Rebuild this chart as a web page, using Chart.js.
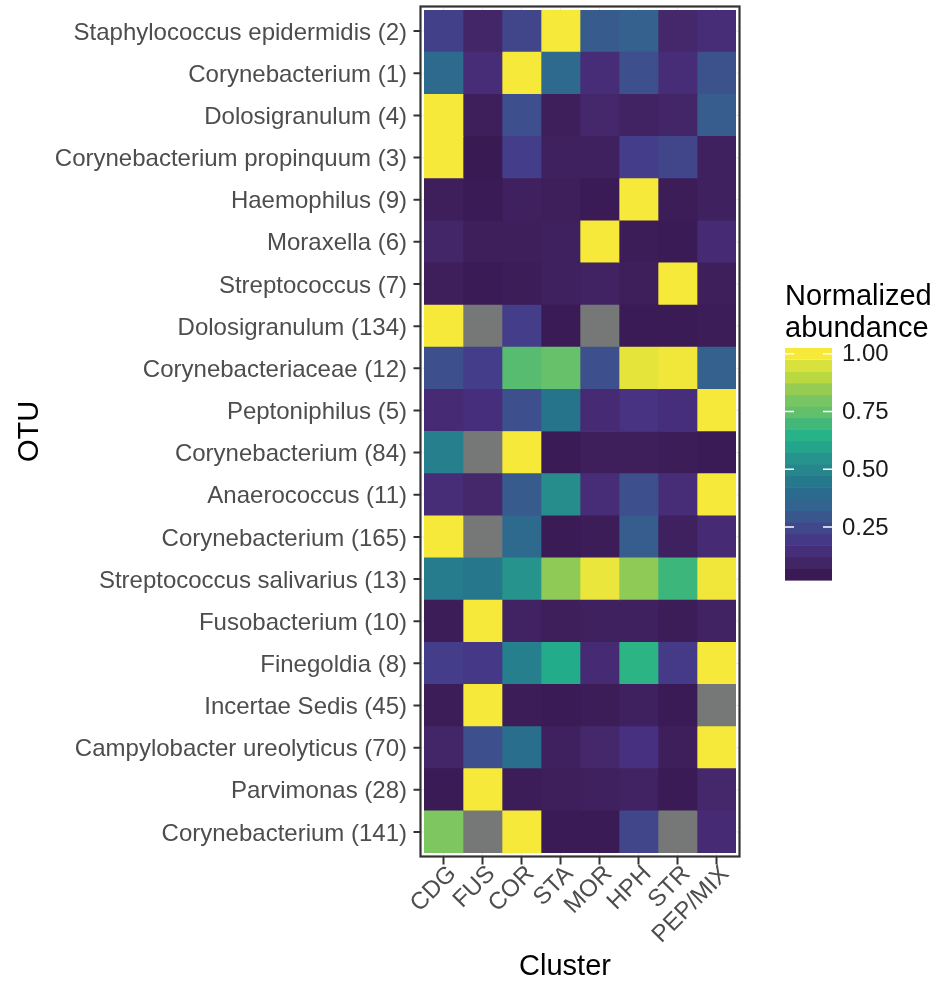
<!DOCTYPE html>
<html>
<head>
<meta charset="utf-8">
<title>Normalized abundance by cluster</title>
<script src="https://cdn.jsdelivr.net/npm/chart.js@4.4.1/dist/chart.umd.min.js"></script>
<style>
  html, body { margin: 0; padding: 0; background: #fff; }
  #wrap { position: relative; width: 935px; height: 982px; }
</style>
</head>
<body>
<div id="wrap"><canvas id="heatmap"></canvas></div>
<script>
// OTUs, top to bottom
const otus = [
  'Staphylococcus epidermidis (2)',
  'Corynebacterium (1)',
  'Dolosigranulum (4)',
  'Corynebacterium propinquum (3)',
  'Haemophilus (9)',
  'Moraxella (6)',
  'Streptococcus (7)',
  'Dolosigranulum (134)',
  'Corynebacteriaceae (12)',
  'Peptoniphilus (5)',
  'Corynebacterium (84)',
  'Anaerococcus (11)',
  'Corynebacterium (165)',
  'Streptococcus salivarius (13)',
  'Fusobacterium (10)',
  'Finegoldia (8)',
  'Incertae Sedis (45)',
  'Campylobacter ureolyticus (70)',
  'Parvimonas (28)',
  'Corynebacterium (141)'
];

const clusters = ['CDG', 'FUS', 'COR', 'STA', 'MOR', 'HPH', 'STR', 'PEP/MIX'];

// normalized abundance per cluster, one value per OTU (null = not present)
const cdg = [0.22, 0.38, 1, 1, 0.07, 0.10, 0.07, 1, 0.27, 0.13, 0.47, 0.14, 1, 0.46, 0.06, 0.21, 0.06, 0.10, 0.05, 0.81];
const fus = [0.10, 0.14, 0.07, 0.045, 0.05, 0.07, 0.05, null, 0.21, 0.15, null, 0.11, null, 0.44, 1, 0.19, 1, 0.27, 1, null];
const cor = [0.24, 1, 0.27, 0.21, 0.08, 0.07, 0.06, 0.21, 0.73, 0.27, 1, 0.31, 0.38, 0.55, 0.09, 0.47, 0.06, 0.41, 0.06, 1];
const sta = [1, 0.38, 0.07, 0.08, 0.07, 0.08, 0.08, 0.05, 0.76, 0.43, 0.05, 0.52, 0.05, 0.84, 0.07, 0.62, 0.05, 0.08, 0.07, 0.05];
const mor = [0.31, 0.14, 0.11, 0.08, 0.05, 1, 0.09, null, 0.27, 0.13, 0.07, 0.14, 0.06, 0.98, 0.08, 0.13, 0.06, 0.11, 0.08, 0.05];
const hph = [0.34, 0.27, 0.09, 0.21, 1, 0.06, 0.07, 0.05, 0.97, 0.17, 0.07, 0.27, 0.32, 0.84, 0.08, 0.66, 0.08, 0.16, 0.09, 0.24];
const str = [0.11, 0.14, 0.10, 0.24, 0.06, 0.05, 1, 0.05, 0.99, 0.15, 0.06, 0.14, 0.08, 0.69, 0.06, 0.20, 0.05, 0.07, 0.05, null];
const pepMix = [0.14, 0.28, 0.32, 0.08, 0.08, 0.13, 0.07, 0.06, 0.34, 1, 0.05, 1, 0.13, 0.99, 0.09, 1, null, 1, 0.11, 0.13];

const legendBreaks = [0.25, 0.50, 0.75, 1.00];

const columns = [cdg, fus, cor, sta, mor, hph, str, pepMix];

const FONT = "'Liberation Sans', Arial, Helvetica, sans-serif";
const NA_COLOR = '#767878';
const INK = '#333333';

// viridis-like ramp, position 0..1 -> rgb
const ramp = [
  [0.00, 58, 26, 83],
  [0.04, 64, 34, 96],
  [0.08, 70, 42, 112],
  [0.12, 72, 48, 128],
  [0.17, 68, 60, 137],
  [0.22, 63, 75, 140],
  [0.28, 56, 92, 142],
  [0.34, 48, 103, 143],
  [0.40, 38, 114, 140],
  [0.46, 38, 131, 140],
  [0.52, 38, 145, 140],
  [0.62, 34, 178, 138],
  [0.68, 62, 182, 122],
  [0.73, 96, 190, 108],
  [0.77, 110, 196, 104],
  [0.82, 135, 199, 90],
  [0.90, 190, 218, 62],
  [1.00, 246, 233, 58]
];

function rampColor(f) {
  f = Math.max(0, Math.min(1, f));
  for (let i = 1; i < ramp.length; i++) {
    const a = ramp[i - 1], b = ramp[i];
    if (f <= b[0]) {
      const t = (f - a[0]) / (b[0] - a[0]);
      const c = [1, 2, 3].map(k => Math.round(a[k] + (b[k] - a[k]) * t));
      return `rgb(${c[0]}, ${c[1]}, ${c[2]})`;
    }
  }
  return 'rgb(246, 233, 58)';
}

const present = columns.flat().filter(v => v !== null);
const lo = Math.min(...present);
const hi = Math.max(...present);

function colorFor(v) {
  if (v === null) return NA_COLOR;
  return rampColor((v - lo) / (hi - lo));
}

// frame, tick marks, colour bar and x title
const panelDecor = {
  id: 'panelDecor',
  beforeDatasetsDraw(chart) {
    const { ctx, chartArea: a, scales: { x, y } } = chart;
    const g = 3.5;
    ctx.save();
    ctx.strokeStyle = '#ebebeb';
    ctx.lineWidth = 1.2;
    ctx.beginPath();
    clusters.forEach((_, i) => {
      const px = x.getPixelForValue(i + 0.5);
      ctx.moveTo(px, a.top - g); ctx.lineTo(px, a.bottom + g);
    });
    otus.forEach((_, i) => {
      const py = y.getPixelForValue(i);
      ctx.moveTo(a.left - g, py); ctx.lineTo(a.right + g, py);
    });
    ctx.stroke();
    ctx.restore();
  },
  afterDraw(chart) {
    const { ctx, chartArea: a, scales: { x, y } } = chart;
    const g = 3.5;
    ctx.save();

    // panel border
    ctx.strokeStyle = INK;
    ctx.lineWidth = 2.2;
    ctx.strokeRect(a.left - g, a.top - g, a.right - a.left + 2 * g, a.bottom - a.top + 2 * g);

    // axis ticks
    ctx.lineWidth = 2;
    ctx.beginPath();
    otus.forEach((_, i) => {
      const py = y.getPixelForValue(i);
      ctx.moveTo(a.left - g - 7, py); ctx.lineTo(a.left - g, py);
    });
    clusters.forEach((_, i) => {
      const px = x.getPixelForValue(i + 0.5);
      ctx.moveTo(px, a.bottom + g); ctx.lineTo(px, a.bottom + g + 8);
    });
    ctx.stroke();

    // x axis title
    ctx.fillStyle = '#000';
    ctx.font = `29px ${FONT}`;
    ctx.textAlign = 'center';
    ctx.textBaseline = 'alphabetic';
    ctx.fillText('Cluster', 565, 975);

    // colour bar legend
    const bar = { left: a.right + 49, top: 348, width: 47, height: 232 };
    const nbin = 20;
    ctx.textAlign = 'left';
    ctx.fillText('Normalized', bar.left, 305);
    ctx.fillText('abundance', bar.left, 337);

    const step = bar.height / nbin;
    for (let k = 0; k < nbin; k++) {
      ctx.fillStyle = rampColor(k / (nbin - 1));
      const top = bar.top + bar.height - (k + 1) * step;
      ctx.fillRect(bar.left, top, bar.width, step + (k < nbin - 1 ? 0.6 : 0));
    }

    ctx.font = `24px ${FONT}`;
    ctx.textBaseline = 'middle';
    ctx.strokeStyle = '#ffffff';
    ctx.lineWidth = 1.5;
    legendBreaks.forEach(v => {
      const f = (v - lo) / (hi - lo);
      const py = bar.top + bar.height * (0.5 + (nbin - 1) * (1 - f)) / nbin;
      ctx.beginPath();
      ctx.moveTo(bar.left, py); ctx.lineTo(bar.left + 9, py);
      ctx.moveTo(bar.left + bar.width - 9, py); ctx.lineTo(bar.left + bar.width, py);
      ctx.stroke();
      ctx.fillStyle = '#1a1a1a';
      ctx.fillText(v.toFixed(2), bar.left + 57, py + 1);
    });

    ctx.restore();
  }
};

// keep the plot area fixed: no extra room for edge labels
function noEdgePadding(s) {
  s.paddingTop = 0;
  s.paddingBottom = 0;
  s.paddingLeft = 0;
  s.paddingRight = 0;
}

Chart.defaults.font.family = FONT;

new Chart(document.getElementById('heatmap'), {
  type: 'bar',
  data: {
    labels: otus,
    datasets: clusters.map((name, ci) => ({
      label: name,
      data: columns[ci].map(() => [ci, ci + 1]),
      backgroundColor: columns[ci].map(colorFor),
      borderWidth: 0,
      grouped: false,
      barPercentage: 1,
      categoryPercentage: 1
    }))
  },
  options: {
    indexAxis: 'y',
    responsive: true,
    maintainAspectRatio: false,
    animation: false,
    events: [],
    layout: { padding: { top: 10, right: 199, bottom: 0, left: 0 } },
    plugins: {
      legend: { display: false },
      tooltip: { enabled: false }
    },
    scales: {
      y: {
        grid: { display: false, drawTicks: false },
        border: { display: false },
        ticks: { color: '#4d4d4d', font: { size: 24 }, padding: 17, labelOffset: 2, autoSkip: false },
        title: {
          display: true,
          text: 'OTU',
          color: '#000',
          font: { size: 29 },
          padding: { top: 13, bottom: 0 }
        },
        afterFit(s) { s.width = 424; noEdgePadding(s); }
      },
      x: {
        type: 'linear',
        min: 0,
        max: 8,
        grid: { display: false, drawTicks: false },
        border: { display: false },
        afterBuildTicks(s) { s.ticks = clusters.map((_, i) => ({ value: i + 0.5 })); },
        ticks: {
          color: '#4d4d4d',
          font: { size: 24 },
          padding: 7,
          labelOffset: 9,
          autoSkip: false,
          minRotation: 45,
          maxRotation: 45,
          callback: (v, i) => clusters[i]
        },
        afterFit(s) { s.height = 129; noEdgePadding(s); }
      }
    }
  },
  plugins: [panelDecor]
});
</script>
</body>
</html>
